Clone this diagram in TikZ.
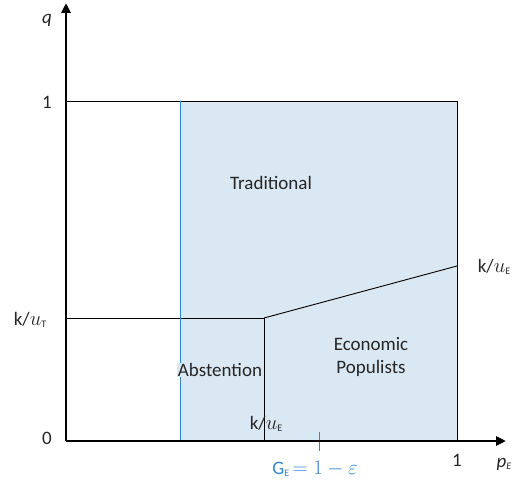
\documentclass[tikz,border=0pt]{standalone}
\usepackage{fontspec}
\setmainfont{Carlito}
\usetikzlibrary{arrows.meta}
\definecolor{areablue}{HTML}{DAE8F4}
\definecolor{eblue}{HTML}{3285D0}
\definecolor{txt}{HTML}{262626}
\newcommand{\lowlab}[1]{\raisebox{-2.5pt}{\fontsize{10}{10}\selectfont #1}}
\newcommand{\largemath}[1]{{\fontsize{22}{24}\selectfont$#1$}}
\begin{document}
\begin{tikzpicture}[x=1pt,y=-1pt,
  lab/.style={font=\fontsize{19}{23}\selectfont, text=txt, inner sep=0pt},
  thin/.style={draw=black, line width=0.9pt},
  axis/.style={draw=black, line width=2.6pt, -{Triangle[length=10pt,width=9pt]}}]
\useasboundingbox (0,0) rectangle (514,489);
% shaded region
\fill[areablue] (180,101) rectangle (457,441);
% coordinates
\coordinate (O) at (66,441);
\coordinate (Ytop) at (66,3);
\coordinate (Xend) at (506,441);
\coordinate (TL) at (66,101);
\coordinate (TR) at (457,101);
\coordinate (BR) at (457,441);
\coordinate (KT) at (66,318);
\coordinate (K) at (264,318);
\coordinate (KB) at (264,441);
\coordinate (ER) at (457,266);
\coordinate (G1) at (180,101);
\coordinate (G2) at (180,441);
\coordinate (Tk1) at (319,432);
\coordinate (Tk2) at (319,451);
% lines
\draw[thin] (TL) -- (TR) -- (BR);
\draw[thin] (KT) -- (K) -- (KB);
\draw[thin] (K) -- (ER);
\draw[draw=eblue, line width=0.9pt] (G1) -- (G2);
\draw[draw=eblue, line width=0.9pt] (Tk1) -- (Tk2);
% axes
\draw[axis] (O) -- (Ytop);
\draw[axis] (O) -- (Xend);
% labels
\node[lab] (q) at (47,20) {\textit{q}};
\node[lab] (one) at (47,102) {1};
\node[lab] (zero) at (47,438) {0};
\node[lab] (kuT) at (30,320) {k/\largemath{u}\lowlab{T}};
\node[lab] (xone) at (457,460) {1};
\node[lab] (pE) at (504,464) {\textit{p}\lowlab{\itshape E}};
\node[lab, text=eblue, anchor=base] (GE) at (315,474) {G\lowlab{E}\largemath{\,=1-\varepsilon}};
\node[lab] (kuE1) at (266,424) {k/\largemath{u}\lowlab{E}};
\node[lab] (kuE2) at (494,267) {k/\largemath{u}\lowlab{E}};
\node[lab] (trad) at (271,183) {Traditional};
\node[lab, fill=areablue, inner xsep=1pt] (abst) at (220,370) {Abstention};
\node[lab, align=center] (pop) at (371,357) {Economic\\Populists};
\end{tikzpicture}
\end{document}
